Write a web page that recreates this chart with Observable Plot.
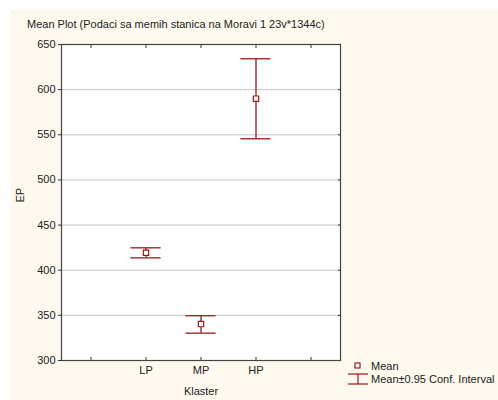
<!DOCTYPE html>
<html>
<head>
<meta charset="utf-8">
<script src="https://cdn.jsdelivr.net/npm/d3@7"></script>
<script src="https://cdn.jsdelivr.net/npm/@observablehq/plot@0.6"></script>
<style>
  html, body { margin: 0; padding: 0; background: #ffffff; }
  #wrap { position: relative; width: 498px; height: 400px; overflow: hidden; font-family: "Liberation Sans", Arial, sans-serif; }
  #bg { position: absolute; left: 11px; top: 10px; right: 0; bottom: 0; background: #fdf9ee; }
  #chart { position: absolute; left: 0; top: 0; }
  #title { position: absolute; left: 27px; top: 18px; font-size: 11px; color: #222; white-space: nowrap; }
  #legend { position: absolute; left: 347px; top: 359px; font-size: 11px; color: #222; }
  .lrow { display: flex; align-items: center; height: 13px; white-space: nowrap; }
  .lrow svg { width: 22px; height: 13px; margin-right: 2px; }
</style>
</head>
<body>
<div id="wrap">
  <div id="bg"></div>
  <div id="chart"></div>
  <div id="title">Mean Plot (Podaci sa memih stanica na Moravi 1 23v*1344c)</div>
  <div id="legend">
    <div class="lrow"><svg><rect x="8" y="4" width="5" height="5" fill="white" stroke="#9a1a1a" stroke-width="1.2"/></svg>Mean</div>
    <div class="lrow"><svg><line x1="1" y1="2" x2="21" y2="2" stroke="#9a1a1a" stroke-width="1.2"/><line x1="11" y1="2" x2="11" y2="12" stroke="#9a1a1a" stroke-width="1.2"/><line x1="1" y1="12" x2="21" y2="12" stroke="#9a1a1a" stroke-width="1.2"/></svg>Mean±0.95 Conf. Interval</div>
  </div>
</div>
<script>
const slots = [" ", "LP", "MP", "HP", "  "];
const categories = ["LP", "MP", "HP"];
const means = [419.3, 340.3, 590.0];
const lower = [413.7, 330.3, 545.6];
const upper = [424.8, 349.6, 634.2];
const yTicks = [300, 350, 400, 450, 500, 550, 600, 650];

const data = categories.map((c, i) => ({ cat: c, mean: means[i], lo: lower[i], hi: upper[i] }));
const red = "#9a1a1a";

const plot = Plot.plot({
  width: 498,
  height: 400,
  marginLeft: 61,
  marginTop: 44,
  marginRight: 158,
  marginBottom: 40,
  style: { background: "transparent", fontFamily: "'Liberation Sans', Arial, sans-serif", fontSize: "11px", color: "#222" },
  x: { type: "band", domain: slots, padding: 0 },
  y: { domain: [300, 650] },
  marks: [
    Plot.frame({ fill: "white", stroke: null }),
    Plot.gridY(yTicks.slice(1, -1), { stroke: "#c4c4c4", strokeOpacity: 1, strokeWidth: 1 }),
    Plot.ruleX(data, { x: "cat", y1: "lo", y2: "hi", stroke: red, strokeWidth: 1.3 }),
    Plot.tickY(data, { x: "cat", y: "hi", stroke: red, strokeWidth: 1.3, inset: 12.4 }),
    Plot.tickY(data, { x: "cat", y: "lo", stroke: red, strokeWidth: 1.3, inset: 12.4 }),
    Plot.dot(data, { x: "cat", y: "mean", symbol: "square", r: 3, fill: "white", stroke: red, strokeWidth: 1.2 }),
    Plot.axisY({ ticks: yTicks, tickSize: 3, tickPadding: 3, stroke: "#333", label: null, fontSize: 11 }),
    Plot.axisY({ anchor: "right", ticks: yTicks, tickSize: -3, tickFormat: () => "", label: null, stroke: "#333" }),
    Plot.axisX({ anchor: "top", tickSize: -3, tickFormat: () => "", label: null, stroke: "#333" }),
    Plot.axisX({ anchor: "bottom", tickSize: -3, tickPadding: 9, label: null, stroke: "#333", fontSize: 11 }),
    Plot.frame({ stroke: "#444", strokeWidth: 1.2 }),
    Plot.text(["EP"], { frameAnchor: "left", dx: -41, rotate: -90, fontSize: 11, fill: "#222" }),
    Plot.text(["Klaster"], { x: () => "MP", frameAnchor: "bottom", dy: 34, fontSize: 11, fill: "#222" })
  ]
});
document.getElementById("chart").appendChild(plot);
</script>
</body>
</html>
